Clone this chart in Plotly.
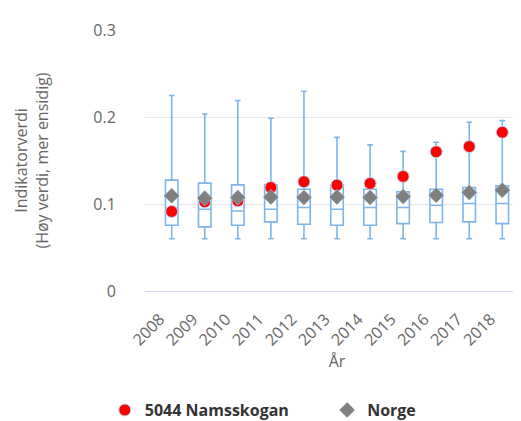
import plotly.graph_objects as go

years = ["2008", "2009", "2010", "2011", "2012", "2013", "2014", "2015", "2016", "2017", "2018"]
box_low = [0.060, 0.060, 0.060, 0.060, 0.060, 0.060, 0.060, 0.060, 0.060, 0.060, 0.060]
box_q1 = [0.0756, 0.0737, 0.0756, 0.0795, 0.0767, 0.0756, 0.0756, 0.0775, 0.0787, 0.0795, 0.0775]
box_median = [0.094, 0.094, 0.092, 0.094, 0.096, 0.094, 0.096, 0.096, 0.0986, 0.1006, 0.1006]
box_q3 = [0.1274, 0.124, 0.122, 0.122, 0.117, 0.122, 0.117, 0.114, 0.117, 0.119, 0.121]
box_high = [0.2247, 0.2035, 0.219, 0.1985, 0.2296, 0.1766, 0.168, 0.1605, 0.1709, 0.194, 0.1958]
namsskogan = [0.0914, 0.1025, 0.1037, 0.119, 0.1256, 0.1217, 0.1236, 0.1317, 0.160, 0.166, 0.1824]
norge = [0.1094, 0.1067, 0.1075, 0.108, 0.1075, 0.108, 0.1075, 0.1086, 0.110, 0.1132, 0.1159]
year_labels = [y + "\u00a0" * 4 for y in years]

FONT = "Open Sans"
fig = go.Figure()
fig.add_trace(go.Box(
    x=years, q1=box_q1, median=box_median, q3=box_q3,
    lowerfence=box_low, upperfence=box_high,
    boxpoints=False, showlegend=False,
    line=dict(color="#7cb5ec", width=1.6),
    fillcolor="white", whiskerwidth=0.45, hoverinfo="skip",
))
fig.add_trace(go.Scatter(
    x=years, y=namsskogan, mode="markers", name="5044 Namsskogan" + "\u00a0" * 8,
    marker=dict(symbol="circle", size=12, color="#ff0000",
                line=dict(color="#b8d4f2", width=1)),
))
fig.add_trace(go.Scatter(
    x=years, y=norge, mode="markers", name="Norge",
    marker=dict(symbol="diamond", size=12, color="#7f7f7f",
                line=dict(color="#b8d4f2", width=0.5)),
))

fig.update_layout(
    width=521, height=421,
    margin=dict(l=137, r=0, t=22, b=138),
    paper_bgcolor="white", plot_bgcolor="white",
    font=dict(family=FONT, size=16, color="#666666"),
    boxgap=0.46,
    xaxis=dict(
        type="category", tickangle=-45, ticks="", ticklen=0,
        showgrid=False, showline=True,
        linecolor="#ccd6eb", linewidth=1,
        tickmode="array", tickvals=years, ticktext=year_labels,
        tickfont=dict(size=16, color="#666666"),
        title=dict(text="År", font=dict(size=16, color="#666666"), standoff=6),
    ),
    yaxis=dict(
        range=[0, 0.3], dtick=0.1, showgrid=True, gridcolor="#e6e6e6",
        gridwidth=1, zeroline=False, ticks="outside", ticklen=25,
        tickcolor="rgba(0,0,0,0)", tickfont=dict(size=16, color="#666666"),
        title=dict(text="Indikatorverdi<br>(Høy verdi, mer ensidig)",
                   font=dict(size=16, color="#666666"), standoff=40),
    ),
    legend=dict(
        orientation="h", xref="container", yref="container",
        x=0.49, xanchor="center", y=0.045, yanchor="middle",
        font=dict(family=FONT, size=16, color="#333333", weight="bold"),
        itemwidth=30,
    ),
)
fig.write_html("out.html")
